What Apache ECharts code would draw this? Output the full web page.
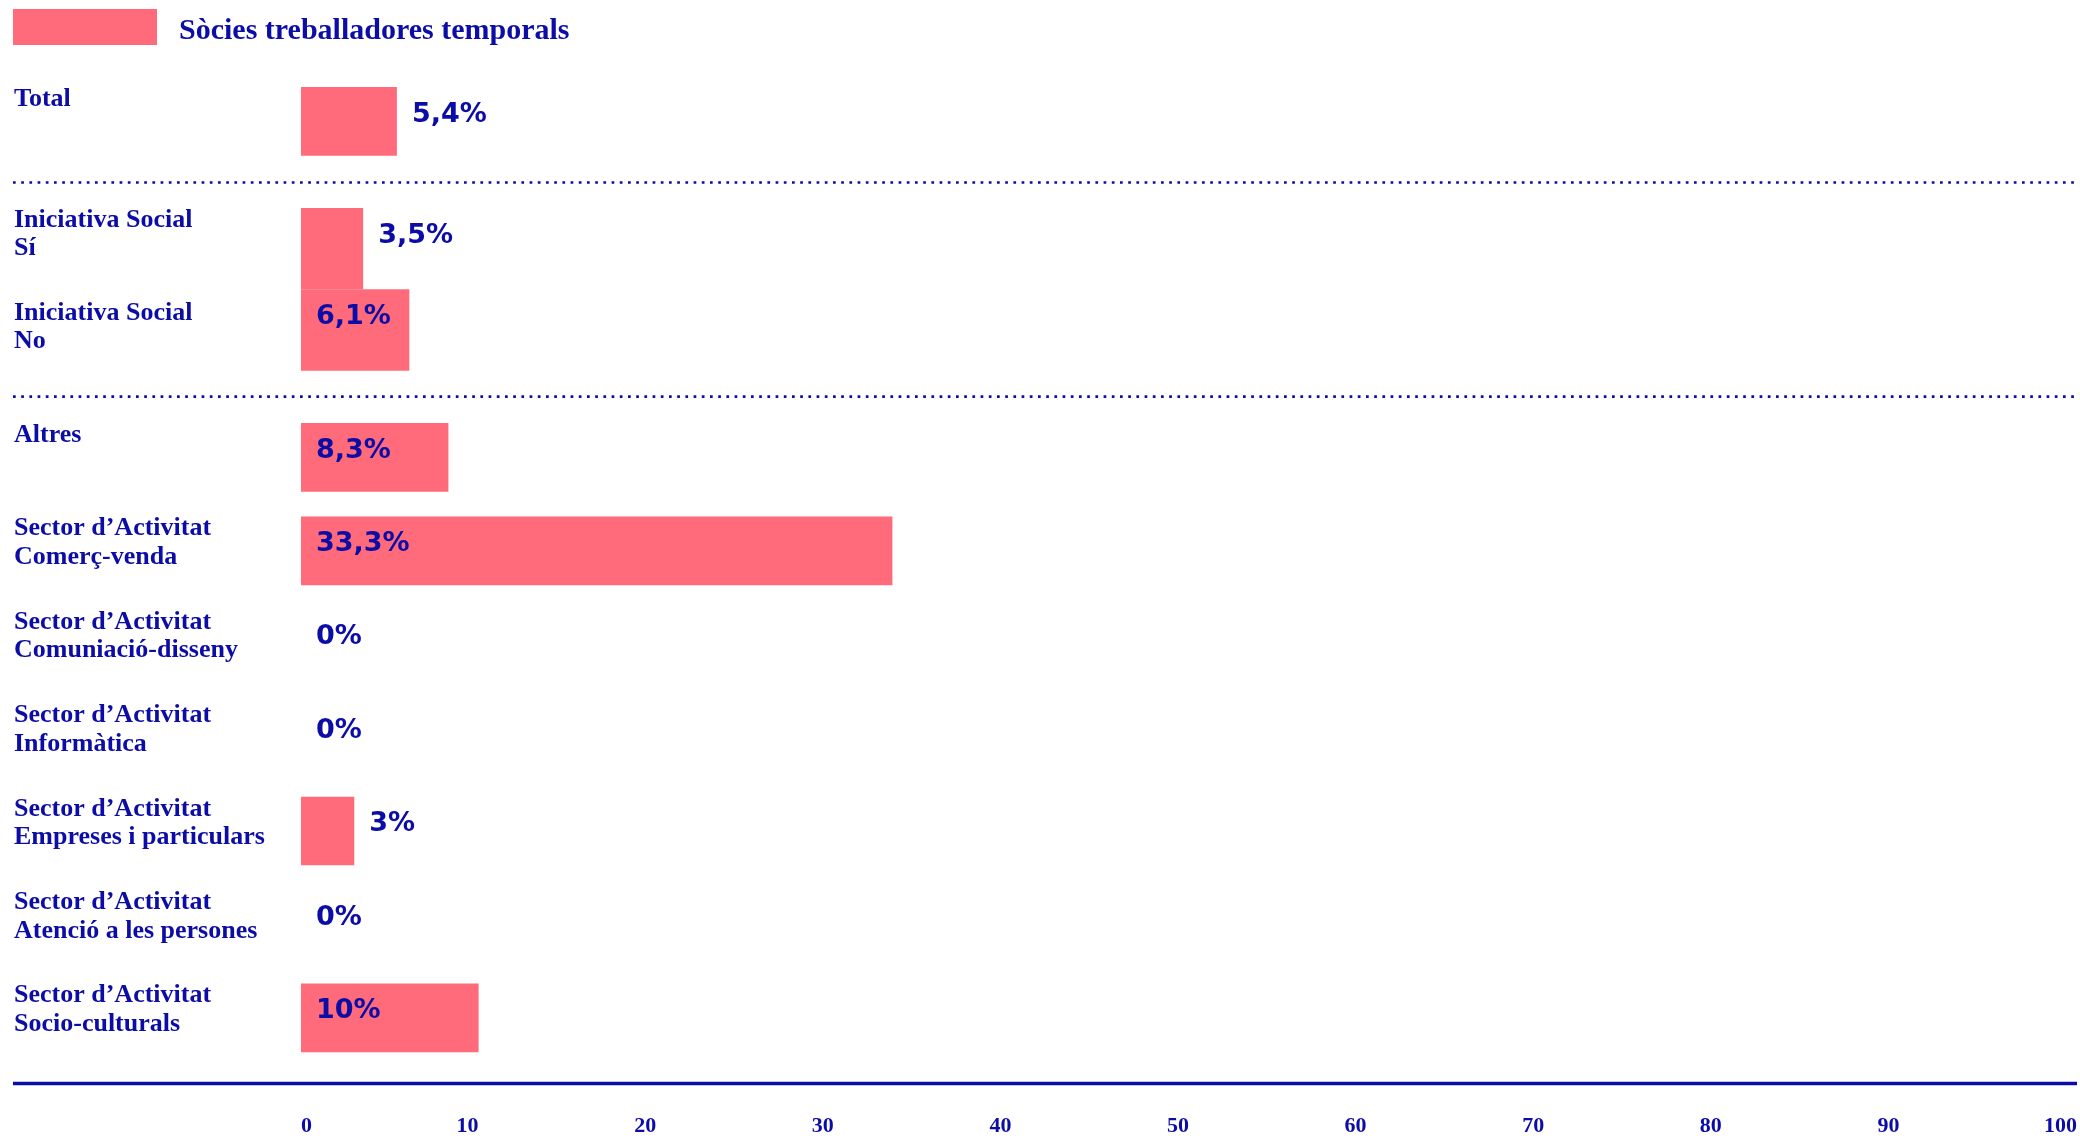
<!DOCTYPE html>
<html>
<head>
<meta charset="utf-8">
<script src="https://cdn.jsdelivr.net/npm/echarts@6/dist/echarts.min.js"></script>
<style>
html, body { margin: 0; padding: 0; background: #ffffff; }
#chart { width: 2080px; height: 1138px; }
</style>
</head>
<body>
<div id="chart"></div>
<script>
// ---------------- DATA ----------------
const seriesName = 'Sòcies treballadores temporals';

const totalCategories = ['Total'];
const totalValues = [5.4];

const iniciativaCategories = ['Iniciativa Social\nSí', 'Iniciativa Social\nNo'];
const iniciativaValues = [3.5, 6.1];

const sectorCategories = [
  'Altres',
  'Sector d’Activitat\nComerç-venda',
  'Sector d’Activitat\nComuniació-disseny',
  'Sector d’Activitat\nInformàtica',
  'Sector d’Activitat\nEmpreses i particulars',
  'Sector d’Activitat\nAtenció a les persones',
  'Sector d’Activitat\nSocio-culturals'
];
const sectorValues = [8.3, 33.3, 0, 0, 3, 0, 10];

const axisMin = 0;
const axisMax = 100;
const axisInterval = 10;

// ---------------- STYLE / LAYOUT ----------------
const BLUE = '#0c0ca6';
const PINK = '#ff6b7b';
const SERIF = "'Liberation Serif', 'DejaVu Serif', serif";
const SANS = "'DejaVu Sans', 'Noto Sans', sans-serif";
const PLOT_LEFT = 301;
const PLOT_RIGHT = 3;
const CAT_FONT = 26;
const CAT_LH = 28.5;
const LABEL_MARGIN = 287;

// raise: distance (px) from band centre up to the top of the label block
const groups = [
  { cats: totalCategories, vals: totalValues, top: 74.7, height: 93.4, barWidth: 68.7, raise: [36.8] },
  { cats: iniciativaCategories, vals: iniciativaValues, top: 208, height: 162.7, barWidth: '100%', raise: [43.1, 31.2] },
  { cats: sectorCategories, vals: sectorValues, top: 410.7, height: 653.8, barWidth: 68.7, raise: [36.3] }
];

function valueText(v) {
  return String(v).replace('.', ',') + '%';
}

const grids = [], xAxes = [], yAxes = [], series = [];
groups.forEach((g, gi) => {
  const isLast = gi === groups.length - 1;
  const rich = {
    t: { fontFamily: SERIF, fontWeight: 'bold', fontSize: CAT_FONT, lineHeight: CAT_LH, color: BLUE, align: 'left' }
  };
  const spacerKey = g.cats.map((c, i) => {
    const n = c.split('\n').length;
    const d = g.raise[Math.min(i, g.raise.length - 1)];
    const h = Math.max(1, 2 * d - n * CAT_LH);
    const key = 's' + i;
    rich[key] = { fontSize: 1, lineHeight: h, height: h };
    return key;
  });
  grids.push({ left: PLOT_LEFT, right: PLOT_RIGHT, top: g.top, height: g.height,
    containLabel: false, outerBoundsMode: 'none' });
  xAxes.push({
    type: 'value', gridIndex: gi, min: axisMin, max: axisMax, interval: axisInterval,
    show: isLast,
    axisLine: { show: false }, axisTick: { show: false }, splitLine: { show: false },
    axisLabel: {
      show: isLast, margin: 51, color: BLUE, fontFamily: SERIF, fontWeight: 'bold', fontSize: 22,
      lineHeight: 22, align: 'right', alignMinLabel: 'left', alignMaxLabel: 'right', verticalAlign: 'top',
      hideOverlap: false
    }
  });
  yAxes.push({
    type: 'category', gridIndex: gi, inverse: true,
    data: g.cats,
    axisLine: { show: false }, axisTick: { show: false }, splitLine: { show: false },
    axisLabel: {
      margin: LABEL_MARGIN, align: 'left', verticalAlign: 'middle', color: BLUE,
      fontFamily: SERIF, fontWeight: 'bold', fontSize: CAT_FONT, lineHeight: CAT_LH,
      hideOverlap: false,
      formatter: (value, idx) => value.split('\n').map(l => '{t|' + l + '}').join('\n') + '\n{' + spacerKey[idx] + '| }',
      rich: rich
    }
  });
  series.push({
    name: seriesName, type: 'bar', xAxisIndex: gi, yAxisIndex: gi,
    barWidth: g.barWidth, barCategoryGap: 0,
    itemStyle: { color: PINK },
    data: g.vals.map(v => {
      const inside = v >= 6;
      return {
        value: v,
        label: {
          position: inside ? [15, 27.5] : ['100%', 27.5],
          offset: inside ? [0, 0] : [15, 0]
        }
      };
    }),
    label: {
      show: true, formatter: p => valueText(p.value), color: BLUE,
      fontFamily: SANS, fontWeight: 'bold', fontSize: 27,
      align: 'left', verticalAlign: 'middle'
    },
    emphasis: { disabled: true }
  });
});

const chart = echarts.init(document.getElementById('chart'), null, { renderer: 'canvas' });
chart.setOption({
  animation: false,
  backgroundColor: '#ffffff',
  legend: {
    data: [seriesName], left: 13, top: 8, padding: 0, itemWidth: 144, itemHeight: 36, icon: 'rect',
    selectedMode: false,
    formatter: name => '{s| }\n{t|' + name + '}',
    textStyle: {
      fontFamily: SERIF, fontWeight: 'bold', fontSize: 30, color: BLUE, padding: [0, 0, 0, 17],
      rich: {
        s: { fontSize: 1, lineHeight: 8, height: 8 },
        t: { fontFamily: SERIF, fontWeight: 'bold', fontSize: 30, lineHeight: 30, color: BLUE }
      }
    }
  },
  grid: grids,
  xAxis: xAxes,
  yAxis: yAxes,
  series: series,
  graphic: [
    { type: 'line', silent: true, shape: { x1: 13, y1: 182.5, x2: 2077, y2: 182.5 },
      style: { stroke: BLUE, lineWidth: 2.7, lineDash: [2.7, 5.5] } },
    { type: 'line', silent: true, shape: { x1: 13, y1: 396.7, x2: 2077, y2: 396.7 },
      style: { stroke: BLUE, lineWidth: 2.7, lineDash: [2.7, 5.5] } },
    { type: 'line', silent: true, shape: { x1: 13, y1: 1083.5, x2: 2077, y2: 1083.5 },
      style: { stroke: BLUE, lineWidth: 3.3 } }
  ]
});
</script>
</body>
</html>
